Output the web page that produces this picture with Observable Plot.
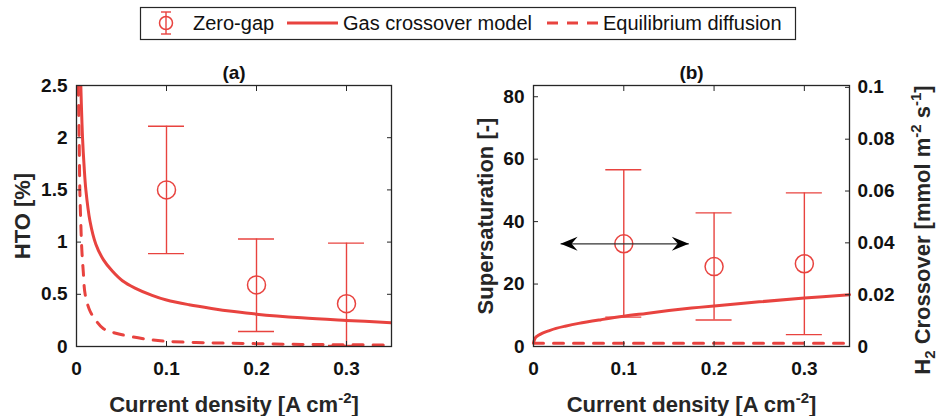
<!DOCTYPE html>
<html>
<head>
<meta charset="utf-8">
<script src="https://cdn.jsdelivr.net/npm/d3@7"></script>
<script src="https://cdn.jsdelivr.net/npm/@observablehq/plot@0.6"></script>
<style>
  body { margin: 0; background: #fff; }
  #root { position: relative; width: 938px; height: 416px; overflow: hidden; background: #fff;
          font-family: "Liberation Sans", Arial, Helvetica, sans-serif; }
  #legend { position: absolute; left: 0; top: 0; }
  .panel { position: absolute; top: 44px; }
</style>
</head>
<body>
<div id="root">
  <div id="legend"></div>
  <div id="pa" class="panel" style="left:0px"></div>
  <div id="pb" class="panel" style="left:470px"></div>
</div>
<script>
// ---------------- data ----------------
const currentDensity = [0.1, 0.2, 0.3];
// panel (a): zero-gap HTO [%]
const htoMean = [1.50, 0.59, 0.41];
const htoLow  = [0.89, 0.144, 0.01];
const htoHigh = [2.11, 1.03, 0.99];
// panel (b): zero-gap supersaturation [-]
const supersatMean = [32.9, 25.6, 26.5];
const supersatLow  = [9.4, 8.5, 3.8];
const supersatHigh = [56.6, 42.8, 49.2];
// panel (a): gas crossover model, HTO [%]
const modelJA  = [0.0048, 0.0067, 0.0085, 0.0104, 0.015, 0.0215, 0.03, 0.04, 0.051, 0.065, 0.084, 0.1, 0.125, 0.15, 0.175, 0.2, 0.25, 0.3, 0.35];
const htoModel = [2.5, 2.0, 1.72, 1.5, 1.2, 0.98, 0.83, 0.72, 0.63, 0.56, 0.49, 0.445, 0.40, 0.365, 0.335, 0.31, 0.275, 0.25, 0.228];
// panel (a): equilibrium diffusion, HTO [%]
const diffJA  = [0.002, 0.003, 0.0037, 0.0047, 0.0059, 0.0075, 0.0096, 0.015, 0.0215, 0.03, 0.047, 0.075, 0.1, 0.15, 0.2, 0.25, 0.3, 0.35];
const htoDiff = [2.5, 1.95, 1.5, 1.2, 0.93, 0.72, 0.5, 0.34, 0.25, 0.17, 0.12, 0.074, 0.05, 0.035, 0.027, 0.02, 0.017, 0.014];
// panel (b): gas crossover model, supersaturation [-]
const modelJB       = [0, 0.002, 0.005, 0.01, 0.0166, 0.025, 0.035, 0.05, 0.075, 0.1, 0.125, 0.15, 0.175, 0.2, 0.25, 0.3, 0.35];
const supersatModel = [1.2, 2.8, 3.5, 4.3, 5.0, 5.8, 6.5, 7.4, 8.6, 9.7, 10.6, 11.5, 12.3, 13.0, 14.3, 15.5, 16.6];
// panel (b): equilibrium diffusion, supersaturation [-]
const diffJB       = [0, 0.35];
const supersatDiff = [1.05, 1.05];
// double arrow annotation in (b)
const arrowJ = [0.03, 0.172];
const arrowLevel = 32.9;
// axes
const xTicks = [0, 0.1, 0.2, 0.3];
const htoTicks = [0, 0.5, 1, 1.5, 2, 2.5];
const supersatTicks = [0, 20, 40, 60, 80];
const crossoverTicks = [0, 0.02, 0.04, 0.06, 0.08, 0.1];
const supersatPerCrossover = 830;   // right axis: H2 crossover = supersaturation / 830
const xDomain = [0, 0.35];
const htoDomain = [0, 2.5];
const supersatDomain = [0, 83.6];
const legendLabels = ["Zero-gap", "Gas crossover model", "Equilibrium diffusion"];

// ---------------- styling ----------------
const RED = "#e8433f";
const AX = "#262626";
const FONT = "'Liberation Sans', Arial, Helvetica, sans-serif";

const zip = (xs, ys) => xs.map((x, i) => ({x, y: ys[i]}));
const pts = (m, lo, hi) => currentDensity.map((x, i) => ({x, y: m[i], lo: lo[i], hi: hi[i]}));

function errorMarks(data) {
  return [
    Plot.ruleX(data, {x: "x", y1: "lo", y2: "hi", stroke: RED, strokeWidth: 1.4}),
    Plot.ruleY(data, {y: "lo", x1: "x", x2: "x", insetLeft: -18, insetRight: -18, stroke: RED, strokeWidth: 1.4}),
    Plot.ruleY(data, {y: "hi", x1: "x", x2: "x", insetLeft: -18, insetRight: -18, stroke: RED, strokeWidth: 1.4}),
    Plot.dot(data, {x: "x", y: "y", r: 9, stroke: RED, strokeWidth: 1.5, fill: "none"})
  ];
}

function frameAxes(yTicks, yFmt, rightTicks, rightFmt) {
  return [
    Plot.frame({stroke: AX, strokeWidth: 1.3}),
    Plot.axisX({anchor: "bottom", ticks: xTicks, tickSize: -5, tickPadding: 20, tickFormat: d3.format("~g"),
                label: null, stroke: AX, fill: "#111"}),
    Plot.axisX({anchor: "top", ticks: xTicks, tickSize: -5, tickFormat: () => "", fill: "none", label: null, stroke: AX}),
    Plot.axisY({anchor: "left", ticks: yTicks, tickSize: -5, tickPadding: 14, tickFormat: yFmt,
                label: null, stroke: AX, fill: "#111"}),
    Plot.axisY({anchor: "right", ticks: rightTicks, tickSize: -5, tickPadding: 13,
                tickFormat: rightFmt || (() => ""), fill: rightFmt ? "#111" : "none", label: null, stroke: AX})
  ];
}

const common = {
  width: 470, height: 372, marginTop: 41, marginBottom: 70,
  style: {fontFamily: FONT, fontSize: "19px", fontWeight: "bold", color: AX, background: "transparent", overflow: "visible"}
};
const titleOpts = {frameAnchor: "top", dy: -13, lineAnchor: "middle", textAnchor: "middle", fontSize: 19, fontWeight: "bold", fill: "#111"};
const xLabelOpts = {frameAnchor: "bottom", dy: 58, lineAnchor: "middle", textAnchor: "middle", fontSize: 22, fontWeight: "bold", fill: AX};
const yLabelOpts = {frameAnchor: "left", rotate: -90, lineAnchor: "middle", textAnchor: "middle", fontSize: 22, fontWeight: "bold", fill: AX};

// ---------------- panel (a) ----------------
const chartA = Plot.plot({
  ...common,
  width: 470, marginLeft: 76, marginRight: 79,
  x: {domain: xDomain},
  y: {domain: htoDomain},
  marks: [
    Plot.line(zip(diffJA, htoDiff), {x: "x", y: "y", stroke: RED, strokeWidth: 3, strokeDasharray: "10,10", curve: "catmull-rom", clip: true}),
    Plot.line(zip(modelJA, htoModel), {x: "x", y: "y", stroke: RED, strokeWidth: 3, curve: "catmull-rom", clip: true}),
    ...errorMarks(pts(htoMean, htoLow, htoHigh)),
    ...frameAxes(htoTicks, d3.format("~g"), htoTicks, null),
    Plot.text(["(a)"], titleOpts),
    Plot.text(["Current density [A cm-2]"], xLabelOpts),
    Plot.text(["HTO [%]"], {...yLabelOpts, dx: -54})
  ]
});
document.getElementById("pa").appendChild(chartA);

// ---------------- panel (b) ----------------
const chartB = Plot.plot({
  ...common,
  width: 468, marginLeft: 63, marginRight: 89,
  x: {domain: xDomain},
  y: {domain: supersatDomain},
  marks: [
    Plot.line(zip(diffJB, supersatDiff), {x: "x", y: "y", stroke: RED, strokeWidth: 3, strokeDasharray: "10,10"}),
    Plot.line(zip(modelJB, supersatModel), {x: "x", y: "y", stroke: RED, strokeWidth: 3, curve: "catmull-rom"}),
    ...errorMarks(pts(supersatMean, supersatLow, supersatHigh)),
    Plot.link([{x1: arrowJ[0], x2: arrowJ[1], y: arrowLevel}], {x1: "x1", x2: "x2", y1: "y", y2: "y", stroke: "#333", strokeWidth: 1.3}),
    Plot.dot([{x: arrowJ[0], y: arrowLevel}], {x: "x", y: "y", r: 8, fill: "#000", stroke: "none",
      symbol: {draw(c) { c.moveTo(0, 0); c.lineTo(17, -7); c.lineTo(11, 0); c.lineTo(17, 7); c.closePath(); }}}),
    Plot.dot([{x: arrowJ[1], y: arrowLevel}], {x: "x", y: "y", r: 8, fill: "#000", stroke: "none",
      symbol: {draw(c) { c.moveTo(0, 0); c.lineTo(-17, -7); c.lineTo(-11, 0); c.lineTo(-17, 7); c.closePath(); }}}),
    ...frameAxes(supersatTicks, d3.format("~g"),
                 crossoverTicks.map(c => c * supersatPerCrossover),
                 v => d3.format("~g")(+(v / supersatPerCrossover).toFixed(4))),
    Plot.text(["(b)"], titleOpts),
    Plot.text(["Current density [A cm-2]"], xLabelOpts),
    Plot.text(["Supersaturation [-]"], {...yLabelOpts, dx: -48}),
    Plot.text(["H2 Crossover [mmol m-2 s-1]"], {...yLabelOpts, frameAnchor: "right", dx: 73, dy: 14})
  ]
});
document.getElementById("pb").appendChild(chartB);

// ---------------- rich text (super/subscripts) ----------------
function richText(svg, plain, parts) {
  d3.select(svg).selectAll("text").filter(function() { return this.textContent === plain; }).each(function() {
    const t = d3.select(this);
    t.selectAll("*").remove();
    t.text(null);
    let shift = 0;
    parts.forEach(([s, kind]) => {
      const target = kind === "sup" ? -9 : kind === "sub" ? 5 : 0;
      const ts = t.append("tspan").text(s).attr("dy", target - shift);
      if (kind) ts.attr("font-size", 15);
      shift = target;
    });
  });
}
const xParts = [["Current density [A cm"], ["-2", "sup"], ["]"]];
richText(chartA, "Current density [A cm-2]", xParts);
richText(chartB, "Current density [A cm-2]", xParts);
richText(chartB, "H2 Crossover [mmol m-2 s-1]",
  [["H"], ["2", "sub"], [" Crossover [mmol m"], ["-2", "sup"], [" s"], ["-1", "sup"], ["]"]]);

// ---------------- legend ----------------
const lg = d3.select("#legend").append("svg").attr("width", 938).attr("height", 44)
  .style("font-family", FONT);
lg.append("rect").attr("x", 140.5).attr("y", 7.5).attr("width", 655).attr("height", 32)
  .attr("fill", "#fff").attr("stroke", AX).attr("stroke-width", 1.2);
// errorbar icon
const ei = lg.append("g").attr("stroke", RED).attr("fill", "none").attr("stroke-width", 1.4);
ei.append("line").attr("x1", 166).attr("x2", 166).attr("y1", 12).attr("y2", 34);
ei.append("line").attr("x1", 161).attr("x2", 171).attr("y1", 12).attr("y2", 12);
ei.append("line").attr("x1", 161).attr("x2", 171).attr("y1", 34).attr("y2", 34);
ei.append("circle").attr("cx", 166).attr("cy", 23).attr("r", 6.5).attr("stroke-width", 1.5);
lg.append("line").attr("x1", 287).attr("x2", 338).attr("y1", 23).attr("y2", 23).attr("stroke", RED).attr("stroke-width", 3);
lg.append("line").attr("x1", 547).attr("x2", 599).attr("y1", 23).attr("y2", 23).attr("stroke", RED).attr("stroke-width", 3)
  .attr("stroke-dasharray", "11,9");
[[193, legendLabels[0]], [343, legendLabels[1]], [603, legendLabels[2]]].forEach(([x, s]) => {
  lg.append("text").attr("x", x).attr("y", 23).attr("dy", "0.35em").attr("font-size", 20).attr("fill", "#111").text(s);
});
</script>
</body>
</html>
